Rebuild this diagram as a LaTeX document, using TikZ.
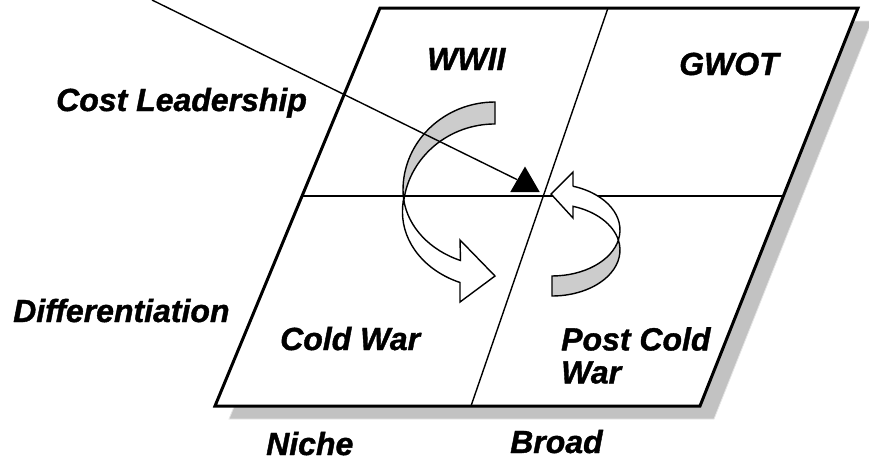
\documentclass[tikz,border=0pt]{standalone}
\usepackage{fontspec}
\setmainfont{Liberation Sans}[BoldItalicFeatures={FakeBold=1.2}]
\usetikzlibrary{positioning, calc, shapes.geometric}

\begin{document}
\begin{tikzpicture}[x=1pt, y=-1pt]
	% 定义样式
	\tikzstyle{txt} = [font=\fontsize{32}{33}\selectfont\bfseries\itshape, inner sep=0pt, anchor=base west]
	\tikzstyle{frame} = [draw, line width=3pt, fill=white, line join=miter]
	\tikzstyle{shade} = [fill=black!24, draw=black!10, line width=0.8pt]
	\tikzstyle{grid} = [line width=1.4pt]
	\tikzstyle{band} = [draw, line width=1.4pt, line join=miter]
	\tikzstyle{pointer} = [line width=1.4pt]
	\tikzstyle{tri} = [regular polygon, regular polygon sides=3, fill, inner sep=0pt, minimum size=34pt]

	\useasboundingbox (0,0) rectangle (869,461);

	% 外框的四个角
	\coordinate (bl) at (215,406);
	\coordinate (br) at (700,406);
	\coordinate (tr) at (858,8);
	\coordinate (tl) at (380,8);

	% 阴影和外框
	\fill[shade] ($(bl)+(14,13)$) -- ($(br)+(14,13)$) -- ($(tr)+(14,13)$) -- ($(tl)+(14,13)$) -- cycle;
	\draw[frame] (bl) -- (br) -- (tr) -- (tl) -- cycle;

	% 分隔线
	\coordinate (ml) at ($(bl)!0.5276!(tl)$);
	\coordinate (mr) at ($(br)!0.5276!(tr)$);
	\coordinate (mt) at (608,8);
	\coordinate (mb) at (471,406);
	\draw[grid] (ml) -- (mr);
	\draw[grid] (mt) -- (mb);

	% 左侧弯箭头
	\draw[band, fill=black!20] (495,102)
		arc[start angle=-90, end angle=-180, x radius=92, y radius=88]
		arc[start angle=180, end angle=172.3, x radius=92, y radius=76]
		arc[start angle=187.7, end angle=270, x radius=92, y radius=88] -- cycle;
	\draw[band, fill=white] (403.8,200.2)
		arc[start angle=172.3, end angle=112, x radius=92, y radius=76]
		-- (460,240) -- (495,276) -- (460,302) -- (460,282.5)
		arc[start angle=112, end angle=180, x radius=92, y radius=76]
		arc[start angle=180, end angle=187.7, x radius=92, y radius=88] -- cycle;

	% 右侧弯箭头
	\draw[band, fill=white] (573,186.3) -- (573,172) -- (551,194) -- (573,218) -- (573,206.3)
		arc[start angle=-72, end angle=-12.6, x radius=68, y radius=46]
		arc[start angle=12.6, end angle=-72, x radius=68, y radius=46] -- cycle;
	\draw[band, fill=black!20] (618.4,240)
		arc[start angle=12.6, end angle=90, x radius=68, y radius=46]
		-- (552,296)
		arc[start angle=90, end angle=-12.6, x radius=68, y radius=46] -- cycle;

	% 指示线
	\coordinate (src) at (152,0);
	\node[tri] (head) at (525,183.5) {};
	\draw[pointer] (src) -- (head);

	% 文字
	\node[txt] (cost) at (56,111) {Cost Leadership};
	\node[txt] (diff) at (13,322) {Differentiation};
	\node[txt] (wwii) at (427,70) {WWII};
	\node[txt] (gwot) at (679,75) {GWOT};
	\node[txt] (cold) at (280,350) {Cold War};
	\node[txt, anchor=north west, align=left] (post) at (561,327) {Post Cold\\War};
	\node[txt] (niche) at (266,455) {Niche};
	\node[txt] (broad) at (510,453) {Broad};
\end{tikzpicture}
\end{document}
